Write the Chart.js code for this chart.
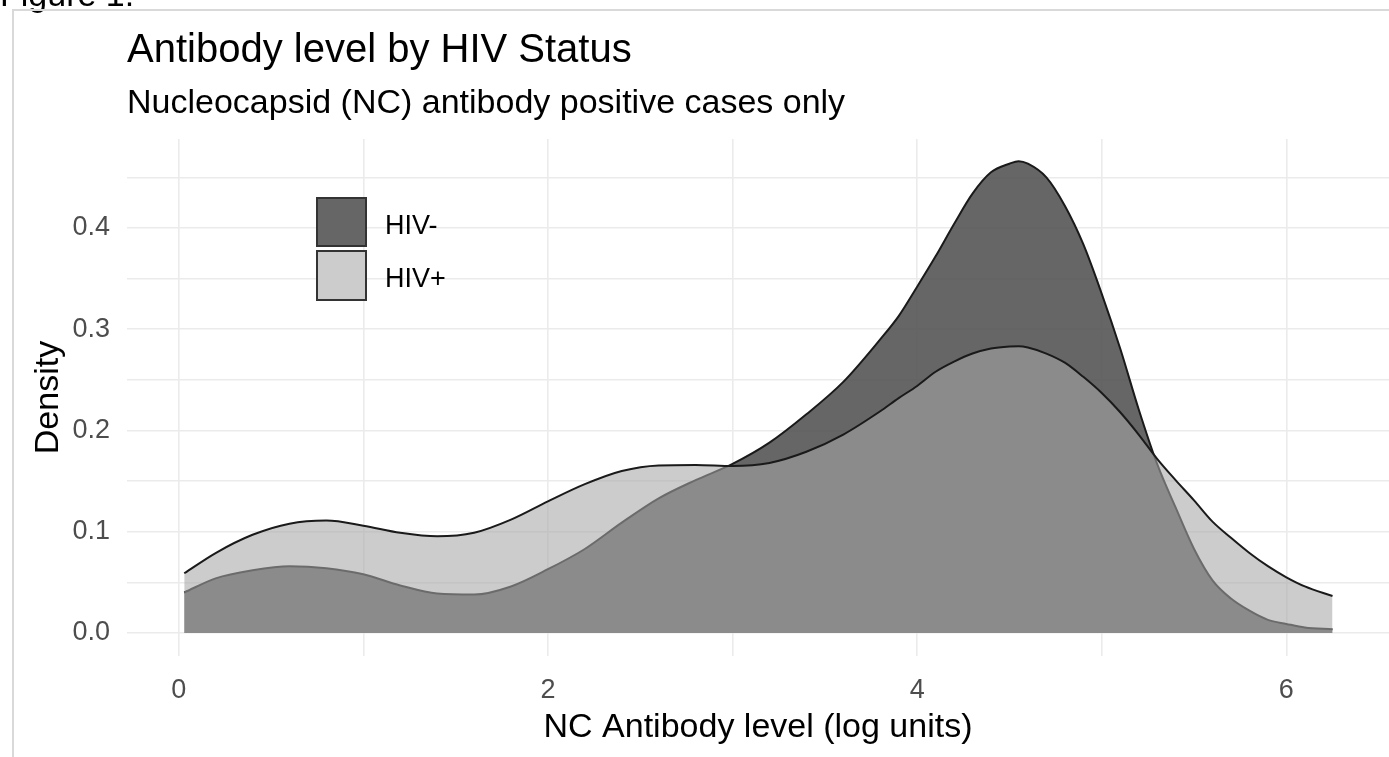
<!DOCTYPE html>
<html>
<head>
<meta charset="utf-8">
<script src="https://cdn.jsdelivr.net/npm/chart.js@4.4.1/dist/chart.umd.min.js"></script>
<style>
html,body{margin:0;padding:0;background:#fff;overflow:hidden;}
body{width:1389px;height:757px;position:relative;font-family:"Liberation Sans",Arial,sans-serif;}
#c{position:absolute;left:0;top:0;}
.t{position:absolute;white-space:nowrap;line-height:1;color:#000;}
.box{position:absolute;box-sizing:border-box;border:2.5px solid #333;}
.fr{position:absolute;background:#d9d9d9;}
</style>
</head>
<body>
<canvas id="c" width="1389" height="757"></canvas>
<div class="t" style="left:0px;top:-23px;font-size:34px;">Figure 1.</div>
<div class="fr" style="left:12px;top:9px;width:1377px;height:2px;"></div>
<div class="fr" style="left:12px;top:9px;width:2px;height:748px;"></div>
<div class="t" style="left:127px;top:28px;font-size:40px;">Antibody level by HIV Status</div>
<div class="t" style="left:127px;top:84px;font-size:34px;">Nucleocapsid (NC) antibody positive cases only</div>
<div class="box" style="left:316px;top:197px;width:51px;height:50px;background:#666666;"></div>
<div class="box" style="left:316px;top:250px;width:51px;height:51px;background:#cccccc;"></div>
<div class="t" style="left:385px;top:212px;font-size:27px;">HIV-</div>
<div class="t" style="left:385px;top:265px;font-size:27px;">HIV+</div>
<script>
// Estimated density curves
const xValues = [0.03, 0.2, 0.4, 0.6, 0.8, 1.0, 1.2, 1.4, 1.6, 1.8, 2.0, 2.2, 2.4, 2.6, 2.8, 3.0, 3.2, 3.4, 3.6, 3.8, 3.9, 4.0, 4.1, 4.2, 4.3, 4.4, 4.5, 4.55, 4.6, 4.7, 4.8, 4.9, 5.0, 5.1, 5.2, 5.3, 5.4, 5.5, 5.6, 5.7, 5.8, 5.9, 6.0, 6.1, 6.25];
const hivNeg = [0.040, 0.054, 0.062, 0.066, 0.064, 0.058, 0.047, 0.039, 0.038, 0.046, 0.063, 0.083, 0.109, 0.133, 0.151, 0.167, 0.188, 0.216, 0.248, 0.290, 0.313, 0.342, 0.372, 0.404, 0.434, 0.455, 0.4635, 0.466, 0.4635, 0.450, 0.422, 0.384, 0.335, 0.281, 0.221, 0.167, 0.124, 0.083, 0.052, 0.034, 0.022, 0.013, 0.009, 0.0055, 0.0037];
const hivPos = [0.059, 0.079, 0.097, 0.108, 0.111, 0.106, 0.099, 0.0955, 0.099, 0.112, 0.130, 0.147, 0.160, 0.1655, 0.166, 0.165, 0.168, 0.179, 0.196, 0.219, 0.232, 0.244, 0.258, 0.268, 0.276, 0.281, 0.283, 0.2832, 0.282, 0.276, 0.267, 0.253, 0.237, 0.218, 0.196, 0.172, 0.151, 0.131, 0.110, 0.094, 0.079, 0.066, 0.055, 0.046, 0.0365];
const seriesLabels = ['HIV-', 'HIV+'];
const xTicks = [0, 1, 2, 3, 4, 5, 6];
const yTicks = [0, 0.05, 0.1, 0.15, 0.2, 0.25, 0.3, 0.35, 0.4, 0.45];
const xTitle = 'NC Antibody level (log units)';
const yTitle = 'Density';

const FONT = '"Liberation Sans", Arial, sans-serif';
const toPoints = ys => xValues.map((x, i) => ({x: x, y: ys[i]}));

new Chart(document.getElementById('c'), {
  type: 'line',
  data: {
    datasets: [
      {label: seriesLabels[0], data: toPoints(hivNeg), order: 2, fill: 'origin',
       backgroundColor: 'rgba(85,85,85,0.9)', borderColor: '#1a1a1a', borderWidth: 2,
       pointRadius: 0, cubicInterpolationMode: 'monotone'},
      {label: seriesLabels[1], data: toPoints(hivPos), order: 1, fill: 'origin',
       backgroundColor: 'rgba(167,167,167,0.582)', borderColor: '#1a1a1a', borderWidth: 2,
       pointRadius: 0, cubicInterpolationMode: 'monotone'}
    ]
  },
  options: {
    responsive: false,
    animation: false,
    devicePixelRatio: 1,
    layout: {padding: {top: 139, left: 0, right: 0, bottom: 0}},
    plugins: {legend: {display: false}, tooltip: {enabled: false}},
    scales: {
      x: {
        type: 'linear', min: -0.28, max: 6.556,
        afterFit(s) { s.height = 101; },
        afterBuildTicks(s) { s.ticks = xTicks.map(v => ({value: v})); },
        border: {display: false},
        grid: {color: '#ebebeb', lineWidth: 1.6, drawTicks: false},
        ticks: {padding: 18, color: '#4d4d4d', font: {family: FONT, size: 27},
                callback: v => (v % 2 === 0 ? String(v) : '')},
        title: {display: true, text: xTitle, color: '#000',
                font: {family: FONT, size: 34}, padding: {top: 0, bottom: 9}}
      },
      y: {
        type: 'linear', min: -0.0227, max: 0.4879,
        afterFit(s) { s.width = 127; },
        afterBuildTicks(s) { s.ticks = yTicks.map(v => ({value: v})); },
        border: {display: false},
        grid: {color: '#ebebeb', lineWidth: 1.6, drawTicks: false},
        ticks: {padding: 17, color: '#4d4d4d', font: {family: FONT, size: 27},
                callback: v => (Math.abs(v * 10 - Math.round(v * 10)) < 1e-9 ? v.toFixed(1) : '')},
        title: {display: true, text: yTitle, color: '#000',
                font: {family: FONT, size: 34}, padding: {top: 28, bottom: 0}}
      }
    }
  }
});
</script>
</body>
</html>
